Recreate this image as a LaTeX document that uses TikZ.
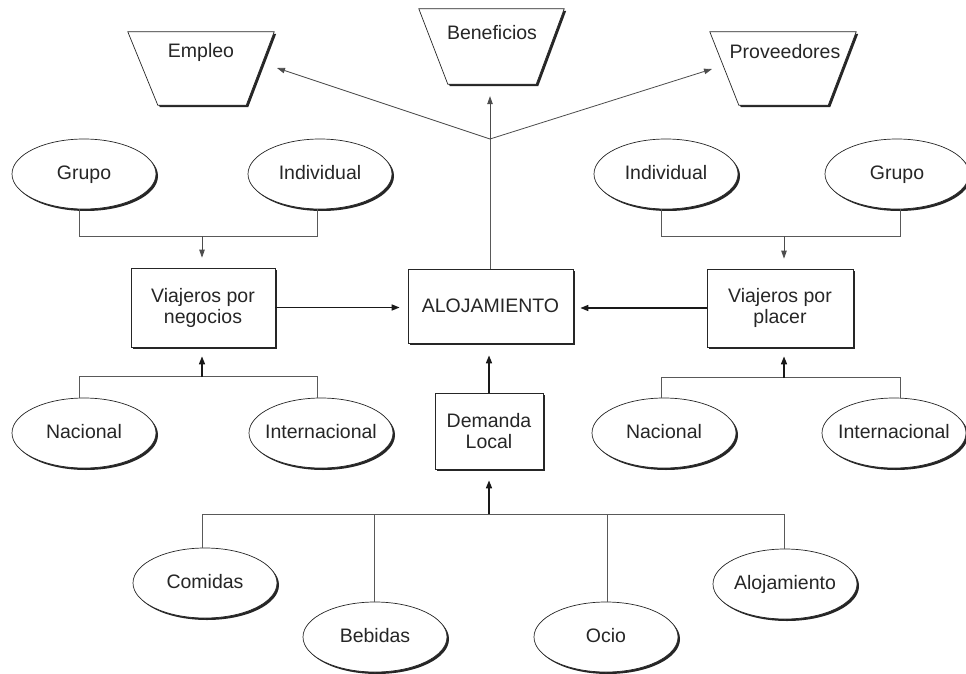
\documentclass[tikz,border=0pt]{standalone}
\usepackage{fontspec}
\setmainfont{Liberation Sans}
\usetikzlibrary{shapes.geometric,arrows.meta,shadows,calc}
\begin{document}
\begin{tikzpicture}[x=1pt,y=-1pt,
  font=\fontsize{19.5}{21}\selectfont, text=black!85,
  sh/.style={drop shadow={shadow xshift=2pt,shadow yshift=-2pt,fill=black!85,opacity=1}},
  ell/.style={ellipse,draw=black!85,line width=0.7pt,fill=white,sh,minimum width=144pt,minimum height=70pt,inner sep=0pt},
  every label/.style={text height=14pt,text depth=4pt,inner sep=0pt},
  box/.style={rectangle,draw=black!85,line width=0.7pt,fill=white,sh,align=center,inner sep=0pt},
  trapbox/.style={rectangle,draw=none,minimum width=146pt,minimum height=73pt,inner sep=0pt},
  trapline/.style={draw=black!85,line width=0.7pt,fill=white,sh},
  conn/.style={draw=black!65,line width=0.8pt},
  arr/.style={draw=black!70,line width=0.8pt,-{Triangle[length=8pt,width=5.5pt]}},
  tarr/.style={draw=black!90,line width=1.5pt,-{Triangle[length=8pt,width=6pt]}},
]
\useasboundingbox (0,0) rectangle (966,674);

% ---- top trapezoids ----
\node[trapbox] (emp) at (201,68.5) {};
\draw[trapline] (emp.north west) -- (emp.north east) -- ([xshift=-28pt]emp.south east) -- ([xshift=30pt]emp.south west) -- cycle;
\node (empt) at (201,52) {Empleo};

\node[trapbox,minimum width=145pt,minimum height=75pt] (ben) at (491.5,46.5) {};
\draw[trapline] (ben.north west) -- (ben.north east) -- ([xshift=-28pt]ben.south east) -- ([xshift=29pt]ben.south west) -- cycle;
\node (bent) at (492,33) {Beneficios};

\node[trapbox] (prov) at (783,68.5) {};
\draw[trapline] (prov.north west) -- (prov.north east) -- ([xshift=-28pt]prov.south east) -- ([xshift=29pt]prov.south west) -- cycle;
\node (provt) at (785,52) {Proveedores};

% ---- boxes ----
\node[box,minimum width=144pt,minimum height=79pt] (neg) at (203,307.5) {Viajeros por\\negocios};
\node[box,minimum width=165pt,minimum height=74pt] (aloj) at (490.5,306) {ALOJAMIENTO};
\node[box,minimum width=146pt,minimum height=78pt] (pla) at (780,308) {Viajeros por\\placer};
\node[box,minimum width=108pt,minimum height=76pt] (dem) at (489,431) {Demanda\\Local};

% ---- ellipses ----
\node[ell,label=center:Grupo] (lgr) at (84,174) {};
\node[ell,label=center:Individual] (lin) at (320,174) {};
\node[ell,label=center:Individual] (rin) at (666,174) {};
\node[ell,label=center:Grupo] (rgr) at (897,174) {};

\node[ell,label=center:Nacional] (lna) at (84,433) {};
\node[ell,label=center:Internacional] (lit) at (321,433) {};
\node[ell,label=center:Nacional] (rna) at (664,433) {};
\node[ell,label=center:Internacional] (rit) at (894,433) {};

\node[ell,label=center:Comidas] (com) at (205,583) {};
\node[ell,label=center:Bebidas] (beb) at (375,637) {};
\node[ell,label=center:Ocio] (oci) at (606,637) {};
\node[ell,label=center:Alojamiento] (alo) at (785,584) {};

% ---- buses and arrows, left ----
\draw[conn] ([xshift=-5pt]lgr.south) -- ++(0,27) -| ([xshift=-3pt]lin.south);
\coordinate (lbt) at (202,236);
\draw[arr,shorten >=10pt] (lbt) -- (lbt |- neg.north);

\draw[conn] ([xshift=-5pt]lna.north) -- ++(0,-21) -| ([xshift=-4pt]lit.north);
\coordinate (lbb) at (202,377);
\draw[tarr,shorten >=9pt] (lbb) -- (lbb |- neg.south);

% ---- right ----
\draw[conn] ([xshift=-5pt]rin.south) -- ++(0,27) -| ([xshift=3pt]rgr.south);
\coordinate (rbt) at (784,236);
\draw[arr,shorten >=10pt] (rbt) -- (rbt |- pla.north);

\draw[conn] ([xshift=-3pt]rna.north) -- ++(0,-20) -| ([xshift=6pt]rit.north);
\coordinate (rbb) at (784,378);
\draw[tarr,shorten >=9pt] (rbb) -- (rbb |- pla.south);

% ---- into ALOJAMIENTO ----
\draw[tarr,shorten >=8pt] (neg.east) -- (neg.east -| aloj.west);
\draw[tarr,shorten >=7pt] (pla.west) -- (pla.west -| aloj.east);
\draw[tarr,shorten >=12pt] (dem.north) -- (dem.north |- aloj.south);

% ---- bottom bus ----
\draw[conn] ([xshift=-3pt]com.north) -- ++(0,-33) -| ([xshift=-1pt]alo.north);
\draw[conn] ([xshift=-1pt]beb.north) -- ++(0,-88);
\draw[conn] ([xshift=1pt]oci.north) -- ++(0,-87);
\coordinate (bb) at (489,514);
\draw[tarr,shorten >=11pt] (bb) -- (bb |- dem.south);

% ---- top outputs ----
\coordinate (jn) at (490,139);
\coordinate (empa) at (277,68);
\coordinate (prova) at (712,69);
\draw[conn] (aloj.north -| jn) -- (jn);
\draw[arr,shorten >=12pt] (jn) -- (jn |- ben.south);
\draw[arr] (jn) -- (empa);
\draw[arr] (jn) -- (prova);
\end{tikzpicture}
\end{document}
